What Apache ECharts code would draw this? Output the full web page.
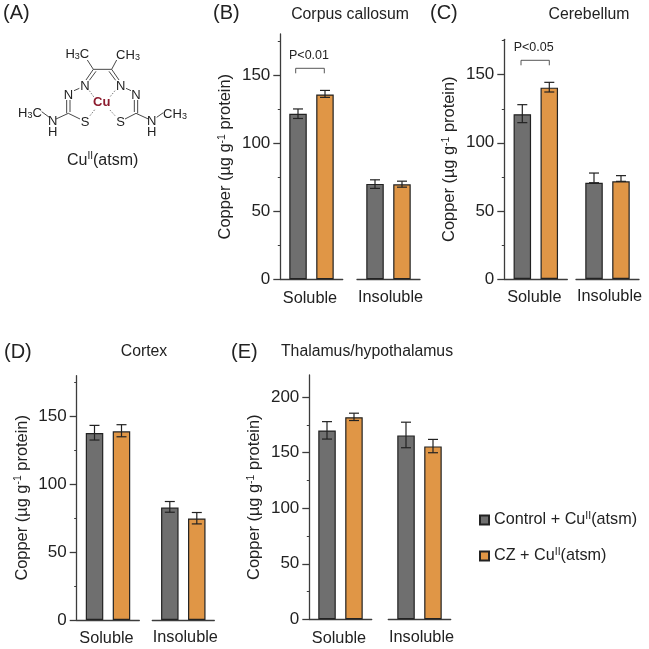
<!DOCTYPE html>
<html><head><meta charset="utf-8">
<style>html,body{margin:0;padding:0;background:#fff}#c{width:649px;height:649px}</style>
<script src="https://cdn.jsdelivr.net/npm/echarts@6/dist/echarts.min.js"></script>
</head><body><div id="c"></div>
<script>
const groups = ['Soluble', 'Insoluble'];
const seriesNames = ['Control + CuII(atsm)', 'CZ + CuII(atsm)'];
const majorTicks = [0, 50, 100, 150];
const minorTicks = [25, 75, 125, 175];
const majorTicksE = [0, 50, 100, 150, 200];

// [soluble, insoluble] for each treatment
const callosumControl = [121.5, 70.0], callosumControlLow = [118.0, 66.7], callosumControlHigh = [125.0, 73.0];
const callosumCZ = [135.6, 69.7], callosumCZLow = [133.5, 67.6], callosumCZHigh = [138.6, 72.0];
const cerebellumControl = [121.0, 70.7], cerebellumControlLow = [114.8, 70.7], cerebellumControlHigh = [128.0, 77.8];
const cerebellumCZ = [140.5, 71.7], cerebellumCZLow = [137.3, 71.7], cerebellumCZHigh = [144.4, 75.9];
const cortexControl = [137.7, 82.8], cortexControlLow = [132.6, 79.4], cortexControlHigh = [143.4, 87.3];
const cortexCZ = [139.0, 74.8], cortexCZLow = [135.0, 70.8], cortexCZHigh = [143.9, 79.2];
const thalamusControl = [170.0, 165.6], thalamusControlLow = [162.3, 154.5], thalamusControlHigh = [178.0, 177.5];
const thalamusCZ = [182.0, 155.7], thalamusCZLow = [179.0, 150.0], thalamusCZHigh = [185.6, 162.0];

const FONT = '"Liberation Sans", Arial, sans-serif';
const INK = '#222';
const AXIS = '#3c3c3c';
const GREY = '#6f6f6f';
const ORANGE = '#e09646';

const panels = [
  {title:'Corpus callosum', tag:'(B)', tagX:213, tagY:13, titleX:350, titleY:15, max:180, top:34, bottom:279.3, axisX:280.3,
   g1:[280.3,342.7], g2:[357,420], major:majorTicks,
   a:[callosumControl,callosumControlLow,callosumControlHigh], b:[callosumCZ,callosumCZLow,callosumCZHigh], nameY:0},
  {title:'Cerebellum', tag:'(C)', tagX:430, tagY:13, titleX:589, titleY:15, max:176, top:39.3, bottom:279, axisX:504.3,
   g1:[504.3,567.3], g2:[576,639], major:majorTicks,
   a:[cerebellumControl,cerebellumControlLow,cerebellumControlHigh], b:[cerebellumCZ,cerebellumCZLow,cerebellumCZHigh]},
  {title:'Cortex', tag:'(D)', tagX:4, tagY:352, titleX:144, titleY:351.5, max:180, top:375.7, bottom:620, axisX:76.7,
   g1:[76.7,139.3], g2:[152.3,214.3], major:majorTicks,
   a:[cortexControl,cortexControlLow,cortexControlHigh], b:[cortexCZ,cortexCZLow,cortexCZHigh]},
  {title:'Thalamus/hypothalamus', tag:'(E)', tagX:231, tagY:352, titleX:367, titleY:351.5, max:220, top:375, bottom:619.3, axisX:309.3,
   g1:[309.3,371.7], g2:[388.3,450.7], major:majorTicksE,
   a:[thalamusControl,thalamusControlLow,thalamusControlHigh], b:[thalamusCZ,thalamusCZLow,thalamusCZHigh]}
];

const H = 649, W = 649;
const grid = [], xAxis = [], yAxis = [], series = [], graphic = [];

function errorSeries(name, xi, yi, offset, gi, low, high) {
  return {
    type:'custom', name, xAxisIndex:xi, yAxisIndex:yi, z:5, silent:true,
    encode:{x:0, y:[1,2]},
    data:[[0, low[gi], high[gi]]],
    renderItem(params, api) {
      const lo = api.coord([api.value(0), api.value(1)]);
      const hi = api.coord([api.value(0), api.value(2)]);
      const x = lo[0] + offset, cap = 5;
      const style = {stroke:INK, lineWidth:1.2, fill:null};
      return {type:'group', children:[
        {type:'line', shape:{x1:x, y1:lo[1], x2:x, y2:hi[1]}, style},
        {type:'line', shape:{x1:x-cap, y1:hi[1], x2:x+cap, y2:hi[1]}, style},
        {type:'line', shape:{x1:x-cap, y1:lo[1], x2:x+cap, y2:lo[1]}, style}
      ]};
    }
  };
}

panels.forEach(p => {
  [p.g1, p.g2].forEach((g, gi) => {
    const gridIndex = grid.length;
    grid.push({left:g[0], width:g[1]-g[0], top:p.top, height:p.bottom-p.top, containLabel:false});
    const xi = xAxis.length;
    xAxis.push({
      type:'category', gridIndex, data:[groups[gi]],
      axisLine:{show:true, onZero:false, lineStyle:{color:AXIS, width:1.3}},
      axisTick:{show:false},
      axisLabel:{color:INK, fontFamily:FONT, fontSize:16.3, margin:gi===0?11:10, interval:0, hideOverlap:false,
        padding:gi===0?[0,3,0,0]:[0,0,0,4]}
    });
    const yi = yAxis.length;
    if (gi === 0) {
      yAxis.push({
        type:'value', gridIndex, min:0, max:p.max, position:'left', name:'Copper (µg g{sup|-1} protein)',
        nameLocation:'middle', nameGap:37, nameRotate:90,
        nameTextStyle:{color:INK, fontFamily:FONT, fontSize:16.4, padding:[0,0,8,0], rich:{sup:{fontSize:10.5, fontFamily:FONT, color:INK, verticalAlign:'top', lineHeight:19}}},
        splitLine:{show:false},
        axisLine:{show:true, lineStyle:{color:AXIS, width:1.3}},
        axisTick:{show:true, length:7, customValues:p.major, lineStyle:{color:AXIS, width:1.3}},
        axisLabel:{color:INK, fontFamily:FONT, fontSize:17, margin:10, customValues:p.major, formatter:v=>String(v)}
      });
      yAxis.push({
        type:'value', gridIndex, min:0, max:p.max, position:'left',
        splitLine:{show:false}, axisLine:{show:false},
        axisTick:{show:true, length:2.5, customValues:minorTicks, lineStyle:{color:AXIS, width:1}},
        axisLabel:{show:false}
      });
    } else {
      yAxis.push({type:'value', gridIndex, min:0, max:p.max, show:false, splitLine:{show:false}});
    }
    const bar = (name, arr, color) => ({
      type:'bar', name, xAxisIndex:xi, yAxisIndex:yi, data:[arr[gi]], barWidth:17.5, barGap:'54%', z:3,
      itemStyle:{color, borderColor:INK, borderWidth:1.2}
    });
    series.push(bar(seriesNames[0], p.a[0], GREY));
    series.push(bar(seriesNames[1], p.b[0], ORANGE));
    series.push(errorSeries('err', xi, yi, -13.5, gi, p.a[1], p.a[2]));
    series.push(errorSeries('err', xi, yi, 13.5, gi, p.b[1], p.b[2]));
  });
  graphic.push({type:'text', x:p.titleX, y:p.titleY, style:{text:p.title, fontFamily:FONT, fontSize:15.8, fill:INK, align:'center', verticalAlign:'middle'}});
  graphic.push({type:'text', x:p.tagX, y:p.tagY, style:{text:p.tag, fontFamily:FONT, fontSize:20, fill:INK, align:'left', verticalAlign:'middle'}});
});

// panel A tag and significance annotations
graphic.push({type:'text', x:3, y:13, style:{text:'(A)', fontFamily:FONT, fontSize:20, fill:INK, align:'left', verticalAlign:'middle'}});
[[309,55.5,'P<0.01',[295.7,324.3],68.3],[533.7,47.5,'P<0.05',[521,549.3],60.3]].forEach(([x,y,t,br,by]) => {
  graphic.push({type:'text', x, y, style:{text:t, fontFamily:FONT, fontSize:12.5, fill:INK, align:'center', verticalAlign:'middle'}});
  graphic.push({type:'polyline', shape:{points:[[br[0],by+5],[br[0],by],[br[1],by],[br[1],by+5]]}, style:{stroke:'#444', lineWidth:0.9, fill:null}});
});

// Cu(II)(atsm) structure, panel A (zoom coordinates / 3)
const z = v => v/3;
const bonds = [
 [262,180,280,208],[350,180,335,208],[280,208,335,208],
 [280,208,258,240],[288,214,268,241],[335,208,357,240],[327,214,347,241],
 [222,272,238,265],[393,272,378,265],
 [200,300,200,340],[210,300,210,336],[413,300,413,340],[403,300,403,336],
 [205,340,168,357],[205,340,240,357],[408,340,445,357],[408,340,375,357],
 [125,335,148,352],[490,338,470,352]
];
bonds.forEach(b => graphic.push({type:'line', shape:{x1:z(b[0]),y1:z(b[1]),x2:z(b[2]),y2:z(b[3])}, style:{stroke:'#333', lineWidth:0.9}}));
const dashes = [[268,272,283,293],[345,272,328,293],[270,347,285,328],[345,347,328,328]];
dashes.forEach(b => graphic.push({type:'line', shape:{x1:z(b[0]),y1:z(b[1]),x2:z(b[2]),y2:z(b[3])}, style:{stroke:'#555', lineWidth:0.8, lineDash:[1.5,1.5]}}));
const subRich = {s:{fontSize:9, fontFamily:FONT, fill:INK, verticalAlign:'bottom', padding:[5,0,0,0]}};
const atoms = [
 ['H{s|3}C',232,163],['CH{s|3}',384,165],['N',255,258],['N',362,258],['N',205,285],['N',408,285],
 ['S',255,368],['S',362,368],['H{s|3}C',90,340],['CH{s|3}',525,342],['N',158,365],['H',158,398],['N',455,365],['H',455,398]
];
atoms.forEach(a => graphic.push({type:'text', x:z(a[1]), y:z(a[2]), style:{text:a[0], rich:subRich, fontFamily:FONT, fontSize:13, fill:INK, align:'center', verticalAlign:'middle'}}));
graphic.push({type:'text', x:z(305), y:z(308), style:{text:'Cu', fontFamily:FONT, fontSize:13, fontWeight:'bold', fill:'#8c1c2e', align:'center', verticalAlign:'middle'}});
graphic.push({type:'text', x:z(308), y:z(482), style:{text:'Cu{s|II}(atsm)', rich:{s:{fontSize:10, fontFamily:FONT, fill:INK, verticalAlign:'top', lineHeight:18}}, fontFamily:FONT, fontSize:16, fill:INK, align:'center', verticalAlign:'middle'}});

const chart = echarts.init(document.getElementById('c'), null, {renderer:'canvas', width:W, height:H});
chart.setOption({
  animation:false, backgroundColor:'#fff',
  grid, xAxis, yAxis, series, graphic,
  legend:{
    orient:'vertical', left:474, top:506, itemWidth:9, itemHeight:9, itemGap:19, selectedMode:false, icon:'rect',
    data:seriesNames,
    formatter:n => n.replace('II','{sup|II}'),
    textStyle:{color:INK, fontFamily:FONT, fontSize:16.2, rich:{sup:{fontSize:10.5, fontFamily:FONT, color:INK, verticalAlign:'top', lineHeight:18}}}
  }
});
</script></body></html>
